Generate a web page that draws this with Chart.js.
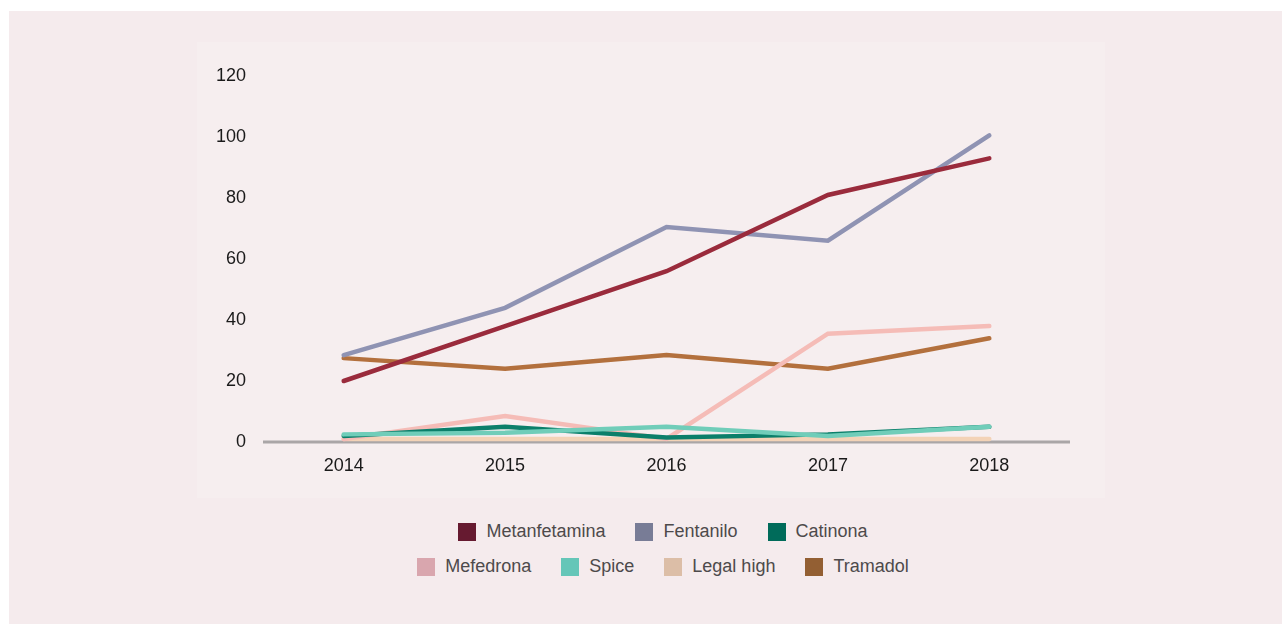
<!DOCTYPE html>
<html>
<head>
<meta charset="utf-8">
<script src="https://cdn.jsdelivr.net/npm/chart.js@4"></script>
<style>
  body { margin: 0; background: #ffffff; font-family: "Liberation Sans", Arial, sans-serif; }
  #panel { position: absolute; left: 9px; top: 11px; width: 1273px; height: 613px; background: #f5ebed; }
  #inner { position: absolute; left: 197px; top: 42px; width: 908px; height: 456px; background: #f6eeef; }
  #wrap { position: absolute; left: 0; top: 0; width: 1282px; height: 500px; }
  #legend { position: absolute; left: 403px; top: 514px; width: 520px; display: flex; flex-wrap: wrap;
            justify-content: center; column-gap: 30px; }
  .item { display: flex; align-items: center; height: 35px; font-size: 18px; color: #4d4a4b; }
  .box { width: 18px; height: 18px; margin-right: 10px; }
</style>
</head>
<body>
<div id="panel"></div>
<div id="inner"></div>
<div id="wrap"><canvas id="chart"></canvas></div>
<div id="legend"></div>
<script>
// years on the x axis
var years = ['2014', '2015', '2016', '2017', '2018'];

// series
var names = ['Metanfetamina', 'Fentanilo', 'Catinona', 'Mefedrona', 'Spice', 'Legal high', 'Tramadol'];
var metanfetamina = [20, 38, 56, 81, 93];
var fentanilo = [28.5, 44, 70.5, 66, 100.5];
var catinona = [2, 5, 1.5, 2.5, 5];
var mefedrona = [1, 8.5, 1, 35.5, 38];
var spice = [2.5, 3, 5, 2, 5];
var legalHigh = [1, 1, 1, 1, 1];
var tramadol = [27.5, 24, 28.5, 24, 34];

// line colors and legend box colors
var lineColors = ['#9a2b3c', '#8f93b3', '#0b7f6a', '#f5bcb7', '#70cdb9', '#f3d3b7', '#b3703d'];
var boxColors = ['#661a30', '#787c96', '#006b5a', '#d9a6ae', '#65c6b8', '#dcbea7', '#935f33'];
// spice sits on top of the small lines near zero
var drawOrder = [0, 0, 0, 0, -1, 0, 0];

var yTicks = [0, 20, 40, 60, 80, 100, 120];

var series = [metanfetamina, fentanilo, catinona, mefedrona, spice, legalHigh, tramadol];

var datasets = [];
series.forEach(function(values, i) {
    datasets.push({
        label: names[i],
        data: values,
        borderColor: lineColors[i],
        backgroundColor: boxColors[i],
        borderWidth: 4.5,
        borderCapStyle: 'round',
        pointRadius: 0,
        fill: false,
        tension: 0,
        order: drawOrder[i]
    });
});

// gray base line under the lines
var baseLine = {
    id: 'baseLine',
    beforeDatasetsDraw: function(chart) {
        var ctx = chart.ctx;
        var y = chart.scales.y.getPixelForValue(0);
        ctx.save();
        ctx.strokeStyle = '#aaa6a7';
        ctx.lineWidth = 3;
        ctx.beginPath();
        ctx.moveTo(chart.chartArea.left, y);
        ctx.lineTo(chart.chartArea.right, y);
        ctx.stroke();
        ctx.restore();
    }
};

var chart = new Chart(document.getElementById('chart'), {
    type: 'line',
    data: { labels: years, datasets: datasets },
    plugins: [baseLine],
    options: {
        responsive: true,
        maintainAspectRatio: false,
        animation: false,
        layout: { padding: { left: 199, right: 212, top: 76, bottom: 18 } },
        plugins: {
            legend: { display: false },
            tooltip: { enabled: false }
        },
        scales: {
            x: {
                offset: true,
                grid: { display: false, drawTicks: false },
                border: { display: false },
                ticks: { color: '#1a1a1a', padding: 13, font: { family: 'Liberation Sans', size: 18 } },
                afterFit: function(scale) { scale.height = 40; }
            },
            y: {
                min: yTicks[0],
                max: yTicks[yTicks.length - 1],
                grid: { display: false, drawTicks: false },
                border: { display: false },
                afterBuildTicks: function(scale) {
                    scale.ticks = yTicks.map(function(v) { return { value: v }; });
                },
                ticks: { color: '#1a1a1a', padding: 17, font: { family: 'Liberation Sans', size: 18 } },
                afterFit: function(scale) { scale.width = 64; }
            }
        }
    }
});

// html legend in two rows
var legend = document.getElementById('legend');
names.forEach(function(name, i) {
    var item = document.createElement('div');
    item.className = 'item';
    var box = document.createElement('span');
    box.className = 'box';
    box.style.background = boxColors[i];
    item.appendChild(box);
    item.appendChild(document.createTextNode(name));
    legend.appendChild(item);
});
</script>
</body>
</html>
